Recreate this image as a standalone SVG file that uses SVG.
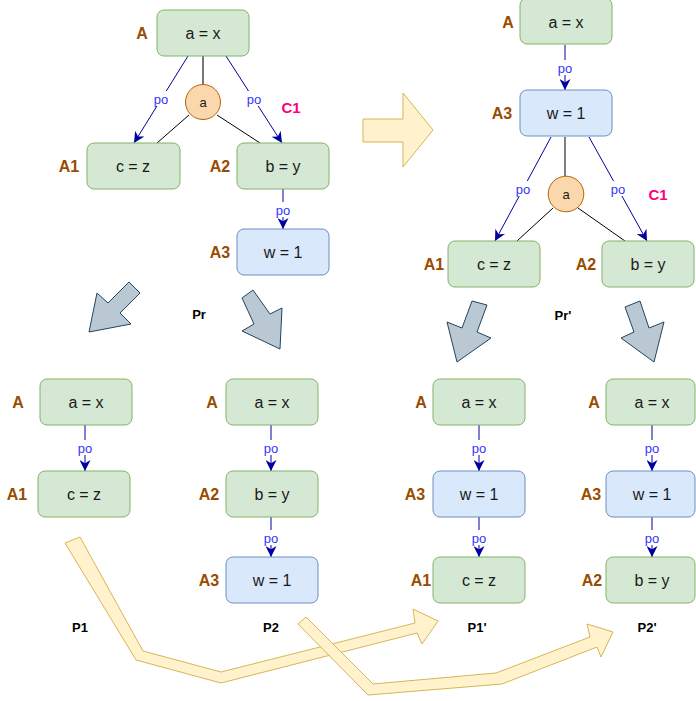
<svg xmlns="http://www.w3.org/2000/svg" width="696" height="701" viewBox="0 0 696 701">
<defs>
<style>
.g{fill:#d5e8d4;stroke:#82b366;stroke-width:1}
.b{fill:#dae8fc;stroke:#6c8ebf;stroke-width:1}
.t{font-family:"Liberation Sans",Arial,sans-serif;font-size:16px;fill:#1a1a1a;text-anchor:middle;dominant-baseline:central}
.l{font-family:"Liberation Sans",Arial,sans-serif;font-size:16px;font-weight:bold;fill:#994C00;text-anchor:middle;dominant-baseline:central}
.po{font-family:"Liberation Sans",Arial,sans-serif;font-size:13px;fill:#3333FF;text-anchor:middle;dominant-baseline:central}
.pl{fill:#ffffff}
.n{font-family:"Liberation Sans",Arial,sans-serif;font-size:13px;font-weight:bold;fill:#000;text-anchor:middle;dominant-baseline:central}
.c1{font-family:"Liberation Sans",Arial,sans-serif;font-size:15px;font-weight:bold;fill:#FF0080;text-anchor:middle;dominant-baseline:central}
.e{stroke:#0000A0;stroke-width:1;fill:none;marker-end:url(#ah)}
.k{stroke:#000;stroke-width:1;fill:none}
.gl{stroke:#555;stroke-width:1.6;fill:none}
.cc{fill:#fad7ac;stroke:#b46504;stroke-width:1}
.ct{font-family:"Liberation Sans",Arial,sans-serif;font-size:13px;fill:#1a1a1a;text-anchor:middle;dominant-baseline:central}
.ga{fill:#bac8d3;stroke:#23445d;stroke-width:1}
.ya{fill:#fff2cc;stroke:#d6b656;stroke-width:1}
</style>
<marker id="ah" viewBox="0 0 10 10" refX="10" refY="5" markerWidth="11" markerHeight="11" markerUnits="userSpaceOnUse" orient="auto">
<path d="M0,0 L10,5 L0,10 L3,5 Z" fill="#0000A0"/>
</marker>
</defs>

<!-- big arrows -->
<g id="arrows-big">
<polygon class="ya" points="363,119 403,119 403,93 433,130 403,167 403,142 363,142"/>
<polygon class="ga" points="129,282 140,293 120,313 131,324 89,332 97,293 108,303"/>
<polygon class="ga" points="253,290 270,314 282,308 280,349 242,331 254,324 242,298"/>
<polygon class="ga" points="472,301 487,305 477,332 491,338 457,362 447,322 462,328"/>
<polygon class="ga" points="625,307 640,301 649,328 664,322 654,362 621,338 634,332"/>
<polygon class="ya" points="65,543 136,660 221,683 417,633 422,644 438,621 413,609 415,623 221,672 143,651 80,537"/>
<polygon class="ya" points="298,624 368,695 502,684 597,647 601,657 613,632 587,624 590,637 496,673 373,684 306,617"/>
</g>

<!-- connectors -->
<g id="connectors">
<!-- Pr -->
<line class="gl" x1="203" y1="56" x2="203" y2="84"/>
<line class="k" x1="189" y1="115" x2="157" y2="143"/>
<line class="k" x1="217" y1="115" x2="260" y2="143"/>
<line class="e" x1="188" y1="56" x2="134" y2="143"/>
<line class="e" x1="226" y1="56" x2="282" y2="143"/>
<line class="e" x1="283" y1="189" x2="283" y2="229"/>
<!-- Pr' -->
<line class="e" x1="565" y1="45" x2="565" y2="90"/>
<line class="k" x1="565" y1="137" x2="565" y2="176"/>
<line class="k" x1="553" y1="208" x2="517" y2="241"/>
<line class="k" x1="578" y1="208" x2="625" y2="241"/>
<line class="e" x1="551" y1="137" x2="495" y2="241"/>
<line class="e" x1="589" y1="137" x2="647" y2="241"/>
<!-- P1 -->
<line class="e" x1="85" y1="425" x2="85" y2="471"/>
<!-- P2 -->
<line class="e" x1="271" y1="425" x2="271" y2="471"/>
<line class="e" x1="271" y1="517" x2="271" y2="557"/>
<!-- P1' -->
<line class="e" x1="479" y1="425" x2="479" y2="471"/>
<line class="e" x1="479" y1="517" x2="479" y2="557"/>
<!-- P2' -->
<line class="e" x1="652" y1="425" x2="652" y2="471"/>
<line class="e" x1="652" y1="517" x2="652" y2="557"/>
<!-- po labels -->
<g>
<rect class="pl" x="151" y="91" width="20" height="15"/><text class="po" x="161" y="99">po</text>
<rect class="pl" x="244" y="91" width="20" height="15"/><text class="po" x="254" y="99">po</text>
<rect class="pl" x="273" y="202" width="20" height="15"/><text class="po" x="283" y="210">po</text>
<rect class="pl" x="555" y="60" width="20" height="15"/><text class="po" x="565" y="68">po</text>
<rect class="pl" x="513" y="181" width="20" height="15"/><text class="po" x="523" y="189">po</text>
<rect class="pl" x="608" y="181" width="20" height="15"/><text class="po" x="618" y="189">po</text>
<rect class="pl" x="75" y="440" width="20" height="15"/><text class="po" x="85" y="448">po</text>
<rect class="pl" x="261" y="440" width="20" height="15"/><text class="po" x="271" y="448">po</text>
<rect class="pl" x="261" y="530" width="20" height="15"/><text class="po" x="271" y="538">po</text>
<rect class="pl" x="469" y="440" width="20" height="15"/><text class="po" x="479" y="448">po</text>
<rect class="pl" x="469" y="530" width="20" height="15"/><text class="po" x="479" y="538">po</text>
<rect class="pl" x="642" y="440" width="20" height="15"/><text class="po" x="652" y="448">po</text>
<rect class="pl" x="642" y="530" width="20" height="15"/><text class="po" x="652" y="538">po</text>
</g>
</g>

<!-- Pr nodes -->
<g id="pr-A"><rect class="g" x="157" y="10" width="92" height="46" rx="7"/><text class="t" x="203" y="33">a = x</text><text class="l" x="142" y="33">A</text></g>
<g id="pr-a"><circle class="cc" cx="203" cy="102" r="17.5"/><text class="ct" x="203" y="102">a</text></g>
<g id="pr-A1"><rect class="g" x="87" y="143" width="93" height="46" rx="7"/><text class="t" x="133" y="166">c = z</text><text class="l" x="69" y="166">A1</text></g>
<g id="pr-A2"><rect class="g" x="237" y="143" width="92" height="46" rx="7"/><text class="t" x="283" y="166">b = y</text><text class="l" x="220" y="166">A2</text></g>
<g id="pr-A3"><rect class="b" x="237" y="229" width="92" height="46" rx="7"/><text class="t" x="283" y="252">w = 1</text><text class="l" x="220" y="252">A3</text></g>
<g id="pr-C1"><text class="c1" x="291" y="107">C1</text></g>
<g id="pr-label"><text class="n" x="199" y="314">Pr</text></g>

<!-- Pr' nodes -->
<g id="prp-A"><rect class="g" x="520" y="-2" width="92" height="46" rx="7"/><text class="t" x="566" y="22">a = x</text><text class="l" x="508" y="22">A</text></g>
<g id="prp-A3"><rect class="b" x="520" y="90" width="92" height="46" rx="7"/><text class="t" x="566" y="113">w = 1</text><text class="l" x="502" y="113">A3</text></g>
<g id="prp-a"><circle class="cc" cx="566" cy="194" r="17.8"/><text class="ct" x="566" y="194">a</text></g>
<g id="prp-A1"><rect class="g" x="448" y="241" width="92" height="46" rx="7"/><text class="t" x="494" y="264">c = z</text><text class="l" x="434" y="264">A1</text></g>
<g id="prp-A2"><rect class="g" x="602" y="241" width="92" height="46" rx="7"/><text class="t" x="648" y="264">b = y</text><text class="l" x="586" y="264">A2</text></g>
<g id="prp-C1"><text class="c1" x="658" y="194">C1</text></g>
<g id="prp-label"><text class="n" x="563" y="315">Pr'</text></g>

<!-- P1 -->
<g id="p1-A"><rect class="g" x="40" y="379" width="92" height="46" rx="7"/><text class="t" x="86" y="402">a = x</text><text class="l" x="18" y="402">A</text></g>
<g id="p1-A1"><rect class="g" x="38" y="471" width="92" height="46" rx="7"/><text class="t" x="84" y="494">c = z</text><text class="l" x="17" y="494">A1</text></g>
<g id="p1-label"><text class="n" x="80" y="627">P1</text></g>

<!-- P2 -->
<g id="p2-A"><rect class="g" x="226" y="379" width="92" height="46" rx="7"/><text class="t" x="272" y="402">a = x</text><text class="l" x="212" y="402">A</text></g>
<g id="p2-A2"><rect class="g" x="226" y="471" width="92" height="46" rx="7"/><text class="t" x="272" y="494">b = y</text><text class="l" x="209" y="494">A2</text></g>
<g id="p2-A3"><rect class="b" x="226" y="557" width="92" height="46" rx="7"/><text class="t" x="272" y="580">w = 1</text><text class="l" x="209" y="580">A3</text></g>
<g id="p2-label"><text class="n" x="271" y="627">P2</text></g>

<!-- P1' -->
<g id="p1p-A"><rect class="g" x="433" y="379" width="92" height="46" rx="7"/><text class="t" x="479" y="402">a = x</text><text class="l" x="421" y="402">A</text></g>
<g id="p1p-A3"><rect class="b" x="433" y="471" width="92" height="46" rx="7"/><text class="t" x="479" y="494">w = 1</text><text class="l" x="415" y="494">A3</text></g>
<g id="p1p-A1"><rect class="g" x="433" y="557" width="92" height="46" rx="7"/><text class="t" x="479" y="580">c = z</text><text class="l" x="421" y="580">A1</text></g>
<g id="p1p-label"><text class="n" x="477" y="627">P1'</text></g>

<!-- P2' -->
<g id="p2p-A"><rect class="g" x="606" y="379" width="89" height="46" rx="7"/><text class="t" x="652" y="402">a = x</text><text class="l" x="594" y="402">A</text></g>
<g id="p2p-A3"><rect class="b" x="606" y="471" width="89" height="46" rx="7"/><text class="t" x="652" y="494">w = 1</text><text class="l" x="591" y="494">A3</text></g>
<g id="p2p-A2"><rect class="g" x="606" y="557" width="89" height="46" rx="7"/><text class="t" x="652" y="580">b = y</text><text class="l" x="592" y="580">A2</text></g>
<g id="p2p-label"><text class="n" x="647" y="627">P2'</text></g>
</svg>
